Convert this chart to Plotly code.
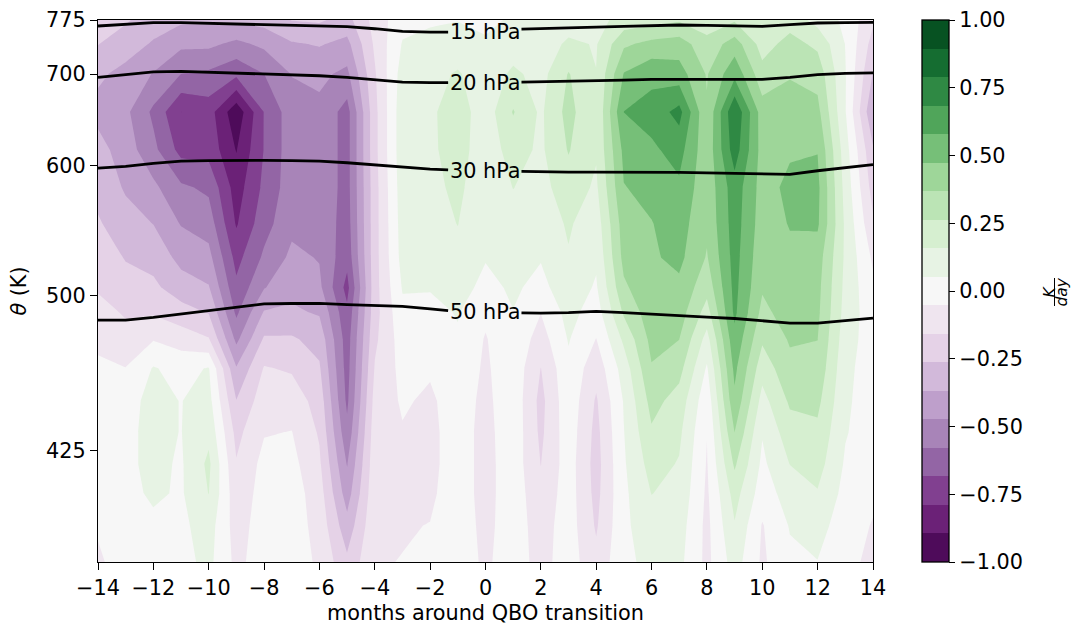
import numpy as np
import plotly.graph_objects as go

# ---------------- data ----------------
months = list(range(-14, 15))
theta_levels = [390, 400, 410, 420, 432, 445, 460, 475, 490, 505, 525, 550, 580, 615, 655, 700, 740, 775]

# heating-rate anomaly (K/day): one profile per month (-14 ... 14), values from 390 K up to 775 K
heating_by_month = [
    [-0.07, -0.04, -0.01, 0.0, -0.01, 0.0, -0.03, -0.08, -0.12, -0.17, -0.2, -0.25, -0.3, -0.33, -0.4, -0.35, -0.26, -0.2],
    [0.0, 0.0, 0.02, 0.03, 0.03, 0.02, -0.05, -0.12, -0.17, -0.22, -0.27, -0.33, -0.38, -0.42, -0.45, -0.4, -0.32, -0.25],
    [0.0, 0.03, 0.07, 0.08, 0.08, 0.08, 0.06, -0.06, -0.17, -0.24, -0.3, -0.37, -0.45, -0.55, -0.6, -0.48, -0.38, -0.32],
    [0.02, 0.03, 0.04, 0.04, 0.05, 0.05, 0.02, -0.1, -0.22, -0.32, -0.4, -0.48, -0.56, -0.72, -0.79, -0.58, -0.45, -0.35],
    [0.08, 0.1, 0.16, 0.18, 0.13, 0.09, 0.06, -0.15, -0.27, -0.36, -0.44, -0.52, -0.6, -0.72, -0.74, -0.6, -0.45, -0.35],
    [-0.08, -0.1, -0.12, -0.15, -0.19, -0.26, -0.36, -0.5, -0.6, -0.66, -0.72, -0.8, -0.84, -0.9, -0.97, -0.66, -0.5, -0.35],
    [0.0, 0.0, -0.01, -0.02, -0.06, -0.1, -0.15, -0.25, -0.36, -0.48, -0.56, -0.62, -0.66, -0.68, -0.68, -0.58, -0.45, -0.33],
    [0.0, 0.0, 0.0, -0.02, -0.05, -0.1, -0.17, -0.25, -0.35, -0.4, -0.45, -0.5, -0.52, -0.52, -0.52, -0.47, -0.38, -0.26],
    [-0.07, -0.09, -0.11, -0.14, -0.17, -0.2, -0.25, -0.3, -0.38, -0.45, -0.48, -0.5, -0.5, -0.5, -0.5, -0.45, -0.36, -0.25],
    [-0.24, -0.33, -0.42, -0.48, -0.55, -0.6, -0.62, -0.63, -0.66, -0.72, -0.65, -0.63, -0.62, -0.62, -0.62, -0.5, -0.4, -0.3],
    [-0.06, -0.07, -0.08, -0.09, -0.1, -0.12, -0.15, -0.18, -0.2, -0.2, -0.2, -0.2, -0.2, -0.19, -0.19, -0.17, -0.14, -0.12],
    [-0.05, -0.06, -0.07, -0.07, -0.06, -0.04, -0.02, 0.0, 0.03, 0.06, 0.09, 0.1, 0.11, 0.12, 0.12, 0.1, 0.06, 0.02],
    [-0.03, -0.05, -0.07, -0.08, -0.08, -0.07, -0.04, -0.01, 0.02, 0.06, 0.1, 0.12, 0.13, 0.14, 0.14, 0.12, 0.08, 0.04],
    [0.0, 0.0, 0.0, 0.0, 0.0, 0.0, 0.02, 0.04, 0.06, 0.1, 0.13, 0.16, 0.18, 0.2, 0.21, 0.17, 0.09, 0.05],
    [-0.07, -0.08, -0.09, -0.09, -0.09, -0.08, -0.07, -0.06, -0.03, 0.02, 0.06, 0.08, 0.09, 0.1, 0.1, 0.09, 0.06, 0.04],
    [0.0, 0.0, 0.01, 0.01, 0.02, 0.02, 0.02, 0.03, 0.05, 0.07, 0.09, 0.12, 0.16, 0.2, 0.27, 0.18, 0.1, 0.06],
    [-0.09, -0.1, -0.13, -0.16, -0.18, -0.19, -0.16, -0.1, -0.05, 0.02, 0.06, 0.1, 0.12, 0.14, 0.14, 0.12, 0.09, 0.06],
    [0.0, 0.0, 0.0, 0.0, 0.01, 0.02, 0.03, 0.06, 0.09, 0.12, 0.15, 0.17, 0.22, 0.27, 0.3, 0.27, 0.18, 0.1],
    [-0.13, -0.17, -0.19, -0.2, -0.19, -0.17, -0.12, -0.055, 0.0, 0.04, 0.07, 0.1, 0.14, 0.17, 0.16, 0.16, 0.15, 0.12],
    [0.03, 0.03, 0.03, 0.04, 0.05, 0.06, 0.1, 0.18, 0.28, 0.35, 0.4, 0.42, 0.47, 0.5, 0.58, 0.48, 0.35, 0.2],
    [0.08, 0.12, 0.16, 0.2, 0.25, 0.3, 0.36, 0.4, 0.43, 0.45, 0.46, 0.47, 0.5, 0.56, 0.62, 0.55, 0.4, 0.22],
    [0.08, 0.1, 0.13, 0.15, 0.18, 0.22, 0.3, 0.37, 0.42, 0.45, 0.5, 0.52, 0.56, 0.62, 0.72, 0.52, 0.42, 0.25],
    [-0.08, -0.08, -0.07, -0.06, -0.05, -0.02, 0.04, 0.12, 0.22, 0.3, 0.36, 0.39, 0.4, 0.4, 0.38, 0.36, 0.3, 0.2],
    [0.1, 0.15, 0.2, 0.28, 0.37, 0.45, 0.5, 0.55, 0.6, 0.61, 0.62, 0.63, 0.64, 0.74, 0.78, 0.55, 0.42, 0.25],
    [-0.07, -0.06, 0.0, 0.03, 0.06, 0.12, 0.2, 0.28, 0.34, 0.38, 0.4, 0.42, 0.43, 0.43, 0.42, 0.3, 0.22, 0.18],
    [0.03, 0.06, 0.1, 0.16, 0.22, 0.28, 0.34, 0.38, 0.42, 0.44, 0.45, 0.48, 0.5, 0.46, 0.42, 0.36, 0.3, 0.22],
    [0.05, 0.09, 0.15, 0.2, 0.24, 0.29, 0.34, 0.37, 0.39, 0.4, 0.42, 0.49, 0.5, 0.47, 0.4, 0.33, 0.24, 0.12],
    [-0.02, 0.0, 0.02, 0.04, 0.06, 0.07, 0.08, 0.1, 0.12, 0.13, 0.14, 0.14, 0.12, 0.1, 0.06, 0.06, 0.05, 0.03],
    [-0.08, -0.06, -0.03, -0.01, 0.0, 0.0, 0.0, 0.0, -0.01, -0.03, -0.07, -0.14, -0.2, -0.25, -0.36, -0.27, -0.2, -0.14],
]

# potential temperature (K) of the pressure surfaces, per month
pressure_labels = ["15 hPa", "20 hPa", "30 hPa", "50 hPa"]
theta_15hPa = [766, 768.5, 771, 771, 770, 768, 767, 766.5, 766, 765, 762, 758, 757, 757, 757,
               761, 762.5, 763.5, 764.5, 765.5, 767, 767.5, 767, 766, 765.5, 768, 770.5, 771, 771.5]
theta_20hPa = [696, 699.5, 703, 703.5, 702.5, 701, 700, 699, 698, 696, 693, 690, 689.5, 689.5, 689.5,
               690, 690.5, 691, 692, 692.5, 693.5, 693.5, 693.5, 693.5, 693.5, 696, 699.5, 701, 701.7]
theta_30hPa = [597.5, 599, 602, 604, 604.5, 604.8, 604.8, 604.5, 604, 602.5, 600.5, 598, 596.5, 595.5, 595,
               594.5, 594, 593.8, 593.8, 593.8, 593.8, 593.5, 593, 592.5, 592, 591.6, 595, 598, 600.7]
theta_50hPa = [485.5, 485.5, 487, 489, 491, 492.8, 495, 495.2, 495.3, 494.5, 494.2, 493.5, 492, 490.5, 490,
               489.7, 489.5, 489.8, 490.5, 489.8, 488.8, 488, 487.2, 486.4, 485.2, 483.8, 483.8, 485, 486.6]

theta_ticks = [425, 500, 600, 700, 775]
month_ticks = list(range(-14, 15, 2))
cbar_ticks = [-1.0, -0.75, -0.5, -0.25, 0.0, 0.25, 0.5, 0.75, 1.0]

# ---------------- helpers ----------------
FONT = "DejaVu Sans"
FS = 20.8


def T(th):
    """vertical coordinate used by the original theta axis"""
    return np.log(np.asarray(th, dtype=float) - 310.0)


brewer_prgn = [(64, 0, 75), (118, 42, 131), (153, 112, 171), (194, 165, 207), (231, 212, 232),
               (247, 247, 247), (217, 240, 211), (166, 219, 160), (90, 174, 97), (27, 120, 55), (0, 68, 27)]


def prgn(t):
    p = t * 10
    i = min(int(np.floor(p)), 9)
    f = p - i
    a, b = brewer_prgn[i], brewer_prgn[i + 1]
    c = [round(a[j] + (b[j] - a[j]) * f) for j in range(3)]
    return f"rgb({c[0]},{c[1]},{c[2]})"


nb = 19  # number of filled bands between -1 and 1
band_colors = [prgn((k + 0.5) / nb) for k in range(nb)]
colorscale = []
for k, c in enumerate(band_colors):
    lo = 0.0 if k == 0 else (k + 0.5) / (nb + 1)
    hi = 1.0 if k == nb - 1 else (k + 1.5) / (nb + 1)
    colorscale.append([lo, c])
    colorscale.append([hi, c])

z = np.array(heating_by_month, dtype=float).T

fig = go.Figure()
fig.add_trace(go.Contour(
    x=months, y=T(theta_levels), z=z,
    zmin=-1, zmax=1, autocontour=False,
    contours=dict(start=-1, end=1, size=2 / nb, coloring="fill", showlines=False),
    line=dict(width=0, smoothing=0),
    colorscale=colorscale,
    hoverinfo="skip",
    colorbar=dict(
        x=(922 - 98) / 775, xanchor="left", xpad=0, ypad=0,
        y=0.5, yanchor="middle", len=1, lenmode="fraction",
        thickness=27, outlinecolor="black", outlinewidth=1.3,
        tickmode="array", tickvals=cbar_ticks,
        ticktext=[f"{v:.2f}".replace("-", "\u2212") for v in cbar_ticks],
        ticks="outside", ticklen=6, tickwidth=1.3, tickcolor="black",
        tickfont=dict(family=FONT, size=FS, color="black"),
    ),
))

# pressure surfaces, with a gap for the inline label
gap_left, gap_right = -1.35, 1.3
for label, th in zip(pressure_labels, [theta_15hPa, theta_20hPa, theta_30hPa, theta_50hPa]):
    lx = [m for m in months if m < gap_left] + [gap_left]
    rx = [gap_right] + [m for m in months if m > gap_right]
    ly = np.interp(lx, months, th)
    ry = np.interp(rx, months, th)
    xs = lx + [None] + rx
    ys = list(T(ly)) + [None] + list(T(ry))
    fig.add_trace(go.Scatter(x=xs, y=ys, mode="lines", line=dict(color="black", width=2.8),
                             hoverinfo="skip", showlegend=False, connectgaps=False))
    fig.add_annotation(x=0, y=float(T(np.interp(0, months, th))), text=label, showarrow=False,
                       xanchor="center", yanchor="middle",
                       font=dict(family=FONT, size=FS, color="black"))

# colour-bar unit  K / day  (rotated fraction)
ymid = (562 - 292) / 542
fig.add_annotation(xref="paper", yref="paper", x=(1049.5 - 98) / 775, y=ymid,
                   text="<i>K</i>", textangle=-90, showarrow=False,
                   xanchor="center", yanchor="middle", font=dict(family=FONT, size=15.5, color="black"))
fig.add_annotation(xref="paper", yref="paper", x=(1061.5 - 98) / 775, y=ymid,
                   text="<i>day</i>", textangle=-90, showarrow=False,
                   xanchor="center", yanchor="middle", font=dict(family=FONT, size=15.5, color="black"))
fig.add_shape(type="line", xref="paper", yref="paper",
              x0=(1054.5 - 98) / 775, x1=(1054.5 - 98) / 775,
              y0=(562 - 278) / 542, y1=(562 - 306) / 542,
              line=dict(color="black", width=1))

axis_common = dict(showgrid=False, zeroline=False, showline=True, linecolor="black", linewidth=1.3,
                   mirror=True, ticks="outside", ticklen=7, tickwidth=1.3, tickcolor="black",
                   tickfont=dict(family=FONT, size=FS, color="black"), automargin=False)

fig.update_layout(
    width=1076, height=628,
    margin=dict(l=98, r=203, t=20, b=66),
    paper_bgcolor="white", plot_bgcolor="white",
    font=dict(family=FONT, size=FS, color="black"),
    showlegend=False,
    xaxis=dict(range=[-14, 14], tickmode="array", tickvals=month_ticks,
               ticktext=[str(m).replace("-", "\u2212") for m in month_ticks],
               title=dict(text="months around QBO transition", standoff=6,
                          font=dict(family=FONT, size=FS, color="black")),
               **axis_common),
    yaxis=dict(range=[float(T(390)), float(T(775))], tickmode="array",
               tickvals=list(T(theta_ticks)), ticktext=[str(t) for t in theta_ticks],
               title=dict(text="<i>\u03b8</i> (K)", standoff=13,
                          font=dict(family=FONT, size=FS, color="black")),
               **axis_common),
)

fig.write_html("out.html")
